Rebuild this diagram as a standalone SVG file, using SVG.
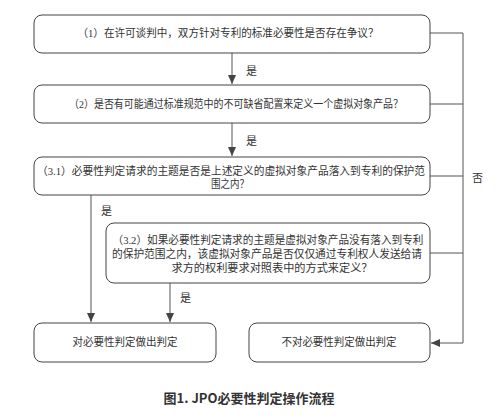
<svg xmlns="http://www.w3.org/2000/svg" width="499" height="419" viewBox="0 0 499 419">
<style>
.box{fill:#fff;stroke:#444;stroke-width:1}
.t{font-family:"Liberation Serif","Noto Sans CJK SC",serif;font-size:10.8px;fill:#333;text-anchor:middle}
.l{font-family:"Liberation Serif","Noto Sans CJK SC",serif;font-size:11px;fill:#333}
.c{fill:none;stroke:#555;stroke-width:1}
.cap{font-family:"Noto Sans CJK SC",sans-serif;font-size:13px;font-weight:bold;fill:#333;text-anchor:middle}
</style>
<defs>
<marker id="ah" markerWidth="10" markerHeight="10" refX="9" refY="5" orient="auto" markerUnits="userSpaceOnUse">
<path d="M0,1 L9,5 L0,9 Z" fill="#444"/>
</marker>
</defs>
<rect width="499" height="419" fill="#fff"/>
<g id="connectors">
<line class="c" x1="232" y1="53" x2="232" y2="84" marker-end="url(#ah)"/>
<line class="c" x1="232" y1="123" x2="232" y2="156" marker-end="url(#ah)"/>
<line class="c" x1="91" y1="195" x2="91" y2="322" marker-end="url(#ah)"/>
<line class="c" x1="170" y1="283" x2="170" y2="322" marker-end="url(#ah)"/>
<polyline class="c" points="430,33 463,33 463,343 431,343" marker-end="url(#ah)"/>
<line class="c" x1="430" y1="104" x2="463" y2="104"/>
<line class="c" x1="430" y1="176" x2="463" y2="176"/>
<line class="c" x1="430" y1="253" x2="463" y2="253"/>
<text class="l" x="246" y="75">是</text>
<text class="l" x="246" y="145">是</text>
<text class="l" x="101" y="215">是</text>
<text class="l" x="180" y="302">是</text>
<text class="l" x="472" y="182">否</text>
</g>
<g id="n1">
<rect class="box" x="34" y="15" width="396" height="38" rx="8"/>
<text class="t" x="228" y="37" textLength="301" lengthAdjust="spacingAndGlyphs">（1）在许可谈判中，双方针对专利的标准必要性是否存在争议？</text>
</g>
<g id="n2">
<rect class="box" x="34" y="85" width="396" height="38" rx="8"/>
<text class="t" x="236" y="108" textLength="334" lengthAdjust="spacingAndGlyphs">（2）是否有可能通过标准规范中的不可缺省配置来定义一个虚拟对象产品？</text>
</g>
<g id="n31">
<rect class="box" x="34" y="157" width="396" height="38" rx="8"/>
<text class="t" x="231" y="175" textLength="388" lengthAdjust="spacingAndGlyphs">（3.1）必要性判定请求的主题是否是上述定义的虚拟对象产品落入到专利的保护范</text>
<text class="t" x="230" y="188" textLength="38" lengthAdjust="spacingAndGlyphs">围之内？</text>
</g>
<g id="n32">
<rect class="box" x="106" y="223" width="324" height="60" rx="8"/>
<text class="t" x="268" y="244" textLength="311" lengthAdjust="spacingAndGlyphs">（3.2）如果必要性判定请求的主题是虚拟对象产品没有落入到专利</text>
<text class="t" x="267" y="258" textLength="310" lengthAdjust="spacingAndGlyphs">的保护范围之内，该虚拟对象产品是否仅仅通过专利权人发送给请</text>
<text class="t" x="272" y="272" textLength="201" lengthAdjust="spacingAndGlyphs">求方的权利要求对照表中的方式来定义？</text>
</g>
<g id="n4">
<rect class="box" x="34" y="323" width="182" height="39" rx="8"/>
<text class="t" x="125" y="346" textLength="105" lengthAdjust="spacingAndGlyphs">对必要性判定做出判定</text>
</g>
<g id="n5">
<rect class="box" x="249" y="323" width="181" height="39" rx="8"/>
<text class="t" x="339" y="346" textLength="115" lengthAdjust="spacingAndGlyphs">不对必要性判定做出判定</text>
</g>
<text class="cap" x="249" y="403">图1. JPO必要性判定操作流程</text>
</svg>
